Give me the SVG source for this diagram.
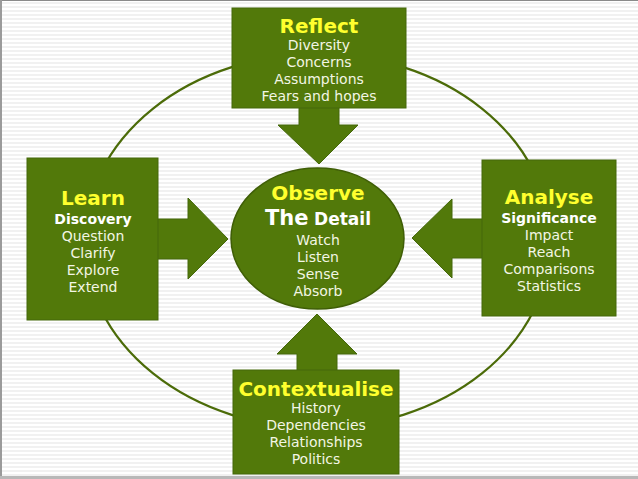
<svg xmlns="http://www.w3.org/2000/svg" width="638" height="479" viewBox="0 0 638 479">
<defs>
<pattern id="stripes" width="8" height="4" patternUnits="userSpaceOnUse">
<rect width="8" height="4" fill="#ffffff"/>
<rect y="2" width="8" height="2" fill="#f1f1f1"/>
</pattern>
<style>
.box{fill:#52790a;stroke:#44680a;stroke-width:1}
.arrow{fill:#52790a;stroke:#44680a;stroke-width:1}
.ring{fill:none;stroke:#4b6b08;stroke-width:2.2}
.title{font-family:"DejaVu Sans",Verdana,sans-serif;font-weight:bold;font-size:20px;fill:#ffff2e;text-anchor:middle}
.body{font-family:"DejaVu Sans",Verdana,sans-serif;font-size:14px;fill:#f2f6e4;text-anchor:middle}
.bold{font-family:"DejaVu Sans",Verdana,sans-serif;font-weight:bold;font-size:14px;fill:#ffffff;text-anchor:middle}
</style>
</defs>
<rect width="638" height="479" fill="url(#stripes)"/>
<rect x="0" y="0" width="638" height="1" fill="#8a8a8a"/>
<rect x="0" y="0" width="2" height="479" fill="#9a9a9a"/>
<rect x="0" y="476" width="638" height="3" fill="#b8b8b8"/>
<ellipse class="ring" cx="317.5" cy="241" rx="233" ry="187"/>
<g id="connectors">
<polygon class="arrow" points="299,106 339,106 339,125 358,125 319,164 278,125 299,125"/>
<polygon class="arrow" points="157,219 188,219 188,198 228,239 188,279 188,259 157,259"/>
<polygon class="arrow" points="483,219 452,219 452,199 412,238 452,278 452,258 483,258"/>
<polygon class="arrow" points="297,371 297,354 277,354 317,314 357,354 337,354 337,371"/>
</g>
<g id="reflect">
<rect class="box" x="232" y="8" width="174" height="100"/>
<text class="title" x="319" y="33">Reflect</text>
<text class="body" x="319" y="50">Diversity</text>
<text class="body" x="319" y="67">Concerns</text>
<text class="body" x="319" y="84">Assumptions</text>
<text class="body" x="319" y="101">Fears and hopes</text>
</g>
<g id="learn">
<rect class="box" x="27" y="158" width="131" height="162"/>
<text class="title" x="93" y="205">Learn</text>
<text class="bold" x="93" y="224">Discovery</text>
<text class="body" x="93" y="241">Question</text>
<text class="body" x="93" y="258">Clarify</text>
<text class="body" x="93" y="275">Explore</text>
<text class="body" x="93" y="292">Extend</text>
</g>
<g id="analyse">
<rect class="box" x="482" y="160" width="134" height="156"/>
<text class="title" x="549" y="204">Analyse</text>
<text class="bold" x="549" y="223">Significance</text>
<text class="body" x="549" y="240">Impact</text>
<text class="body" x="549" y="257">Reach</text>
<text class="body" x="549" y="274">Comparisons</text>
<text class="body" x="549" y="291">Statistics</text>
</g>
<g id="observe">
<ellipse cx="317.5" cy="238.5" rx="86.5" ry="70.5" fill="#52790a" stroke="#3f5e06" stroke-width="1.5"/>
<text class="title" x="318" y="200">Observe</text>
<text x="318" y="225" font-family="DejaVu Sans, Verdana, sans-serif" font-weight="bold" fill="#ffffff" text-anchor="middle"><tspan font-size="21">The</tspan> <tspan font-size="17">Detail</tspan></text>
<text class="body" x="318" y="245">Watch</text>
<text class="body" x="318" y="262">Listen</text>
<text class="body" x="318" y="279">Sense</text>
<text class="body" x="318" y="296">Absorb</text>
</g>
<g id="contextualise">
<rect class="box" x="233" y="370" width="166" height="104"/>
<text class="title" x="316" y="396">Contextualise</text>
<text class="body" x="316" y="413">History</text>
<text class="body" x="316" y="430">Dependencies</text>
<text class="body" x="316" y="447">Relationships</text>
<text class="body" x="316" y="464">Politics</text>
</g>
</svg>
